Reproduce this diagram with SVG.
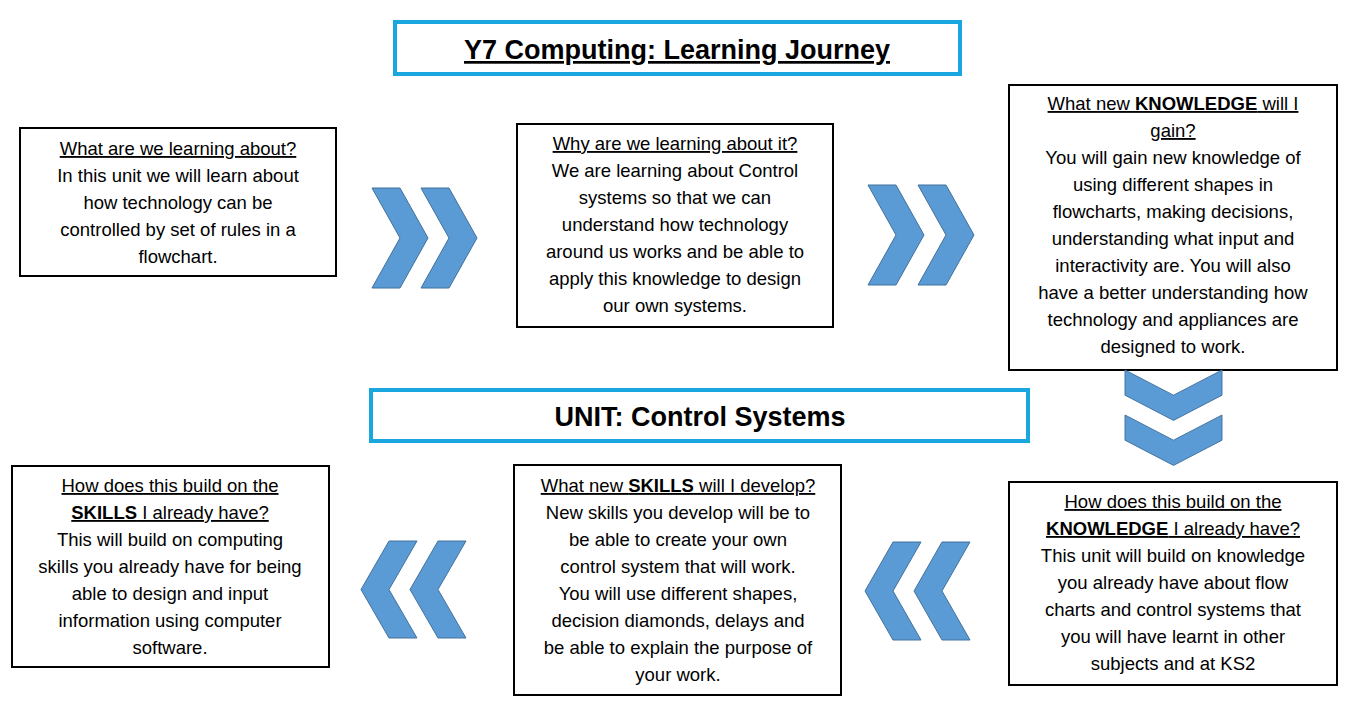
<svg xmlns="http://www.w3.org/2000/svg" width="1347" height="715" viewBox="0 0 1347 715">
<style>
.box{fill:#fff;stroke:#000;stroke-width:2}
.hd{fill:#fff;stroke:#1aa7e0;stroke-width:4}
text{font-family:"Liberation Sans",Arial,sans-serif;font-size:18.5px;fill:#000;text-anchor:middle}
.t{font-size:27px;font-weight:bold}
.u{text-decoration:underline}
.chev{fill:#5b9bd5;stroke:#41719c;stroke-width:1}
</style>
<defs>
<polygon id="cr" class="chev" points="0,0 28,0 56,50 28,100 0,100 28,50"/>
</defs>
<rect width="1347" height="715" fill="#fff"/>
<g id="title"><rect class="hd" x="395" y="22" width="565" height="52"/><text class="t u" x="677" y="59">Y7 Computing: Learning Journey</text></g>
<g id="unit"><rect class="hd" x="371" y="390" width="657" height="51"/><text class="t" x="700" y="426">UNIT: Control Systems</text></g>
<g id="n1"><rect class="box" x="20" y="128" width="316" height="148"/>
<text x="178" y="155"><tspan class="u">What are we learning about?</tspan><tspan x="178" dy="27">In this unit we will learn about</tspan><tspan x="178" dy="27">how technology can be</tspan><tspan x="178" dy="27">controlled by set of rules in a</tspan><tspan x="178" dy="27">flowchart.</tspan></text></g>
<g id="n2"><rect class="box" x="517" y="124" width="316" height="203"/>
<text x="675" y="150"><tspan class="u">Why are we learning about it?</tspan><tspan x="675" dy="27">We are  learning about Control</tspan><tspan x="675" dy="27">systems so  that we can</tspan><tspan x="675" dy="27">understand how  technology</tspan><tspan x="675" dy="27">around us works and be able to</tspan><tspan x="675" dy="27">apply this knowledge to design</tspan><tspan x="675" dy="27">our own systems.</tspan></text></g>
<g id="n3"><rect class="box" x="1009" y="85" width="328" height="285"/>
<text x="1173" y="110"><tspan class="u">What new <tspan font-weight="bold">KNOWLEDGE</tspan> will I</tspan><tspan x="1173" dy="27" class="u">gain?</tspan><tspan x="1173" dy="27">You will gain new knowledge of</tspan><tspan x="1173" dy="27">using different shapes in</tspan><tspan x="1173" dy="27">flowcharts, making decisions,</tspan><tspan x="1173" dy="27">understanding what input and</tspan><tspan x="1173" dy="27">interactivity are. You will also</tspan><tspan x="1173" dy="27">have a better understanding how</tspan><tspan x="1173" dy="27">technology and appliances are</tspan><tspan x="1173" dy="27">designed to work.</tspan></text></g>
<g id="n4"><rect class="box" x="1009" y="482" width="328" height="203"/>
<text x="1173" y="508"><tspan class="u">How does this build on the</tspan><tspan x="1173" dy="27" class="u"><tspan font-weight="bold">KNOWLEDGE</tspan> I already have?</tspan><tspan x="1173" dy="27">This unit will build on knowledge</tspan><tspan x="1173" dy="27">you already have about flow</tspan><tspan x="1173" dy="27">charts and control systems that</tspan><tspan x="1173" dy="27">you will have learnt in other</tspan><tspan x="1173" dy="27">subjects and at KS2</tspan></text></g>
<g id="n5"><rect class="box" x="514" y="465" width="327" height="230"/>
<text x="678" y="492"><tspan class="u">What new <tspan font-weight="bold">SKILLS</tspan> will I develop?</tspan><tspan x="678" dy="27">New skills you develop will be to</tspan><tspan x="678" dy="27">be able to create your own</tspan><tspan x="678" dy="27">control system that will  work.</tspan><tspan x="678" dy="27">You will use different shapes,</tspan><tspan x="678" dy="27">decision diamonds, delays and</tspan><tspan x="678" dy="27">be able to explain the purpose of</tspan><tspan x="678" dy="27">your work.</tspan></text></g>
<g id="n6"><rect class="box" x="12" y="466" width="317" height="201"/>
<text x="170" y="492"><tspan class="u">How does this build on the</tspan><tspan x="170" dy="27" class="u"><tspan font-weight="bold">SKILLS</tspan> I already have?</tspan><tspan x="170" dy="27">This will  build on computing</tspan><tspan x="170" dy="27">skills you already have for being</tspan><tspan x="170" dy="27">able to design  and input</tspan><tspan x="170" dy="27">information using computer</tspan><tspan x="170" dy="27">software.</tspan></text></g>
<g id="connectors">
<use href="#cr" transform="translate(372,188)"/><use href="#cr" transform="translate(421,188)"/>
<use href="#cr" transform="translate(868,185)"/><use href="#cr" transform="translate(918,185)"/>
<use href="#cr" transform="translate(1222,370) rotate(90) scale(0.9,0.97)"/><use href="#cr" transform="translate(1222,415) rotate(90) scale(0.9,0.97)"/>
<use href="#cr" transform="translate(466,638) rotate(180) scale(1,0.97)"/><use href="#cr" transform="translate(417,638) rotate(180) scale(1,0.97)"/>
<use href="#cr" transform="translate(970,640) rotate(180) scale(1,0.98)"/><use href="#cr" transform="translate(921,640) rotate(180) scale(1,0.98)"/>
</g>
</svg>
